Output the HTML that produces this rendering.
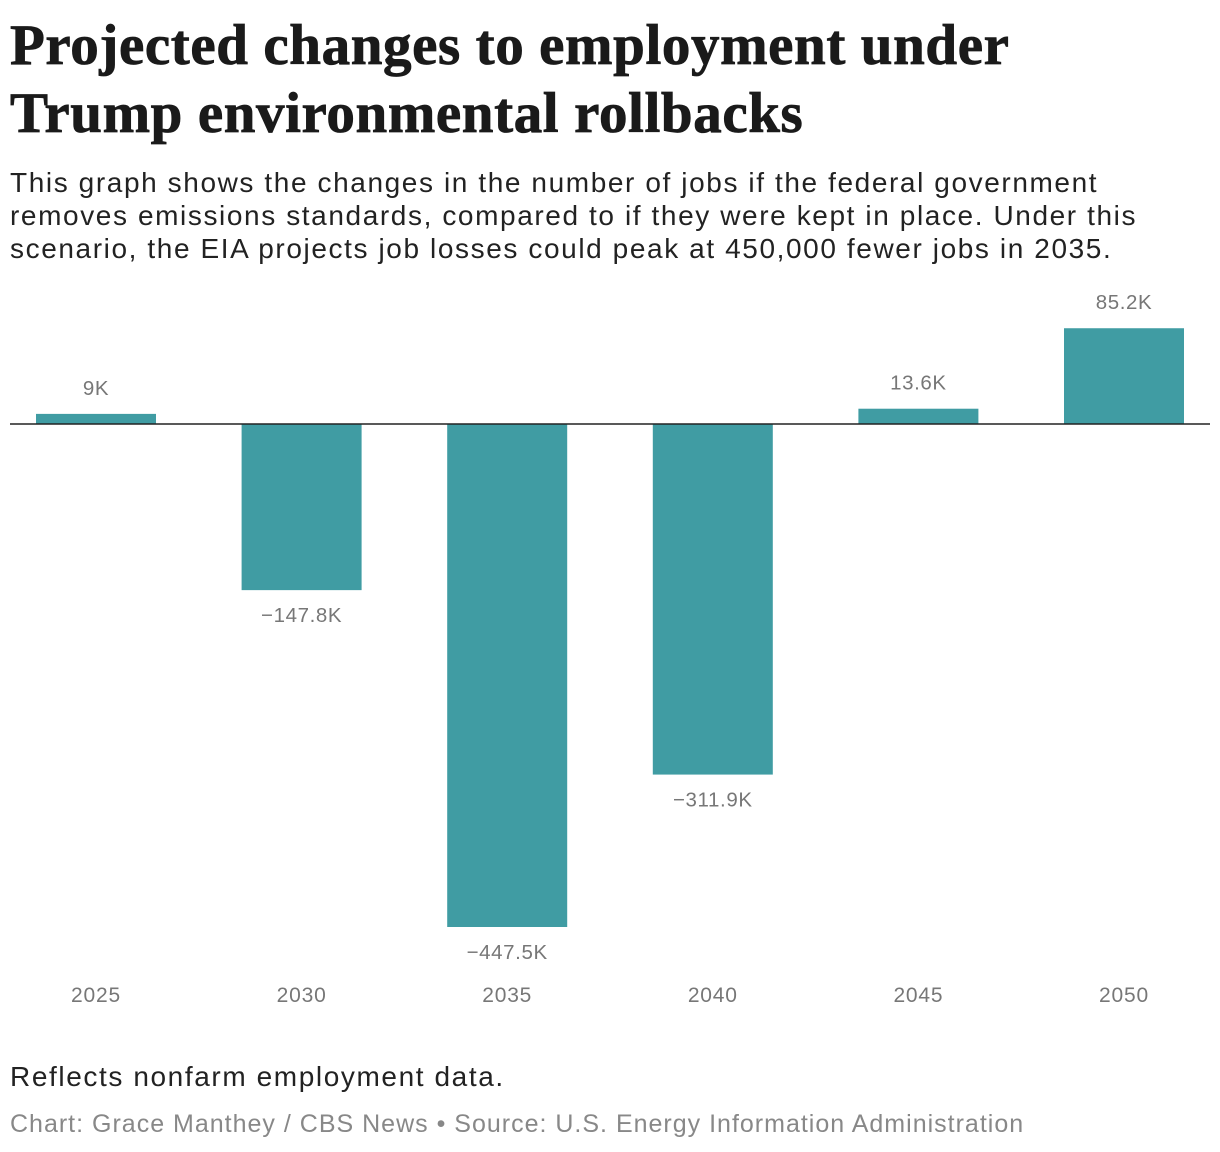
<!DOCTYPE html>
<html><head><meta charset="utf-8"><style>
body{margin:0;width:1220px;height:1152px;background:#fff;font-family:"Liberation Sans",sans-serif;position:relative;overflow:hidden}
.t{position:absolute;left:10px;top:12px;font-family:"Liberation Serif",serif;font-weight:bold;font-size:57px;line-height:68px;color:#1a1a1a;letter-spacing:0.6px;white-space:nowrap;-webkit-text-stroke:0.8px #1a1a1a}
.s{position:absolute;left:10px;top:166px;font-size:28px;line-height:33px;color:#222;letter-spacing:1.6px;white-space:nowrap}
.n{position:absolute;left:10px;top:1061px;font-size:28px;color:#222;letter-spacing:1.6px}
.c{position:absolute;left:10px;top:1110px;font-size:25px;color:#888;letter-spacing:1px}
svg{position:absolute;left:0;top:0}
</style></head><body>
<div class="t">Projected changes to employment under<br>Trump environmental rollbacks</div>
<div class="s">This graph shows the changes in the number of jobs if the federal government<br>removes emissions standards, compared to if they were kept in place. Under this<br>scenario, the EIA projects job losses could peak at 450,000 fewer jobs in 2035.</div>
<svg id="chart" width="1220" height="1152"></svg>
<div class="n">Reflects nonfarm employment data.</div>
<div class="c">Chart: Grace Manthey / CBS News • Source: U.S. Energy Information Administration</div>
<script>
const categories=["2025","2030","2035","2040","2045","2050"];
const values=[9,-147.8,-447.5,-311.9,13.6,85.2];
const labels=["9K","\u2212147.8K","\u2212447.5K","\u2212311.9K","13.6K","85.2K"];
const NS="http://www.w3.org/2000/svg";
const svg=document.getElementById('chart');
const zeroY=424, k=503/447.5;
const y=v=>zeroY-v*k;
const xc=i=>96+i*205.6;
function mk(t,a){const e=document.createElementNS(NS,t);for(const q in a)e.setAttribute(q,a[q]);svg.appendChild(e);return e;}
values.forEach((v,i)=>{
 const r=mk('rect',{x:xc(i)-60,y:Math.min(y(v),zeroY),width:120,height:Math.abs(y(v)-zeroY),fill:'#409ca3'});
 
 
 const ly=v>=0?y(v)-26:y(v)+25;
 const t=mk('text',{x:xc(i),y:ly+7,'text-anchor':'middle','font-size':'20.5',fill:'#777','letter-spacing':'0.6','font-family':'Liberation Sans, sans-serif'});
 t.textContent=labels[i];
 
 
 const c=mk('text',{x:xc(i),y:1002,'text-anchor':'middle','font-size':'21',fill:'#777','letter-spacing':'0.8','font-family':'Liberation Sans, sans-serif'});
 c.textContent=categories[i];
 
 
});
const l=mk('line',{x1:10,x2:1210,y1:zeroY,y2:zeroY,stroke:'#222','stroke-width':1.5});


</script>
</body></html>
